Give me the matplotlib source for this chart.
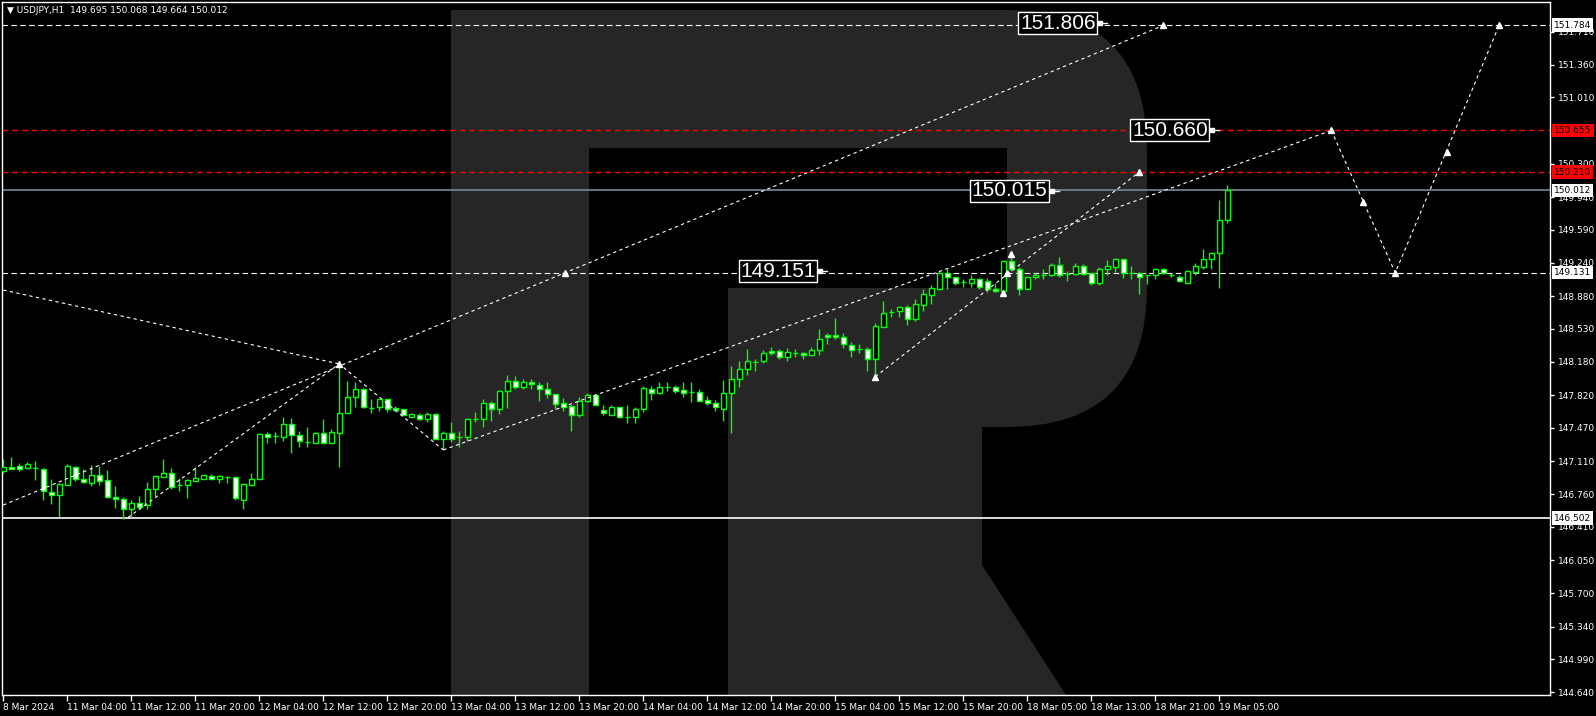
import matplotlib
matplotlib.use("Agg")
import matplotlib.pyplot as plt
import matplotlib.transforms as mtransforms
from matplotlib import font_manager
from matplotlib.patches import Rectangle, FancyBboxPatch, Polygon

# USDJPY H1 candles (bar index 0 = 8 Mar 2024 evening)
opens = [147.011, 147.054, 147.061, 147.040, 147.036, 147.032, 146.783, 146.754, 146.861, 147.054,
         146.925, 146.882, 146.962, 146.911, 146.732, 146.704, 146.597, 146.662, 146.640, 146.812,
         146.947, 146.983, 146.858, 146.861, 146.904, 146.925, 146.954, 146.919, 146.947, 146.940,
         146.697, 146.854, 146.925, 147.404, 147.382, 147.369, 147.511, 147.390, 147.318, 147.311,
         147.411, 147.311, 147.418, 147.632, 147.797, 147.889, 147.686, 147.690, 147.776, 147.682,
         147.669, 147.589, 147.604, 147.568, 147.618, 147.354, 147.411, 147.369, 147.369, 147.561,
         147.561, 147.733, 147.669, 147.861, 147.975, 147.904, 147.961, 147.925, 147.882, 147.832,
         147.733, 147.704, 147.611, 147.754, 147.825, 147.661, 147.611, 147.690, 147.583, 147.583,
         147.669, 147.889, 147.846, 147.904, 147.904, 147.875, 147.854, 147.854, 147.768, 147.733,
         147.675, 147.840, 147.990, 148.097, 148.175, 148.183, 148.290, 148.297, 148.226, 148.275,
         148.275, 148.247, 148.304, 148.461, 148.461, 148.440, 148.361, 148.311, 148.311, 148.204,
         148.554, 148.708, 148.718, 148.761, 148.639, 148.783, 148.896, 148.961, 149.125, 149.083,
         149.029, 149.018, 149.061, 149.040, 148.961, 148.939, 149.260, 149.175, 148.961, 149.083,
         149.110, 149.104, 149.211, 149.118, 149.118, 149.204, 149.125, 149.018, 149.168, 149.197,
         149.275, 149.125, 149.125, 149.104, 149.104, 149.175, 149.110, 149.089, 149.025, 149.139,
         149.197, 149.282, 149.346, 149.695]
highs = [147.136, 147.157, 147.093, 147.104, 147.112, 147.040, 146.919, 146.882, 147.083, 147.061,
         147.032, 147.069, 147.061, 147.018, 146.847, 146.726, 146.697, 146.740, 146.890, 146.968,
         147.133, 147.040, 146.933, 146.925, 147.047, 146.968, 146.975, 146.962, 146.954, 146.940,
         146.876, 146.989, 147.411, 147.425, 147.425, 147.583, 147.575, 147.433, 147.476, 147.425,
         147.561, 147.454, 148.154, 147.968, 147.961, 147.895, 147.776, 147.782, 147.782, 147.704,
         147.675, 147.626, 147.626, 147.639, 147.626, 147.433, 147.532, 147.433, 147.575, 147.639,
         147.776, 147.754, 147.875, 148.033, 148.025, 147.996, 147.996, 147.961, 147.961, 147.832,
         147.790, 147.711, 147.797, 147.846, 147.832, 147.711, 147.711, 147.690, 147.711, 147.690,
         147.918, 147.918, 147.961, 147.961, 147.925, 147.961, 147.961, 147.882, 147.811, 147.768,
         147.982, 148.132, 148.183, 148.311, 148.204, 148.304, 148.339, 148.311, 148.325, 148.318,
         148.282, 148.333, 148.526, 148.489, 148.647, 148.483, 148.390, 148.368, 148.333, 148.590,
         148.825, 148.746, 148.775, 148.783, 148.847, 148.961, 148.997, 149.139, 149.168, 149.089,
         149.061, 149.104, 149.075, 149.075, 149.018, 149.268, 149.332, 149.190, 149.097, 149.125,
         149.175, 149.232, 149.303, 149.153, 149.232, 149.225, 149.132, 149.190, 149.268, 149.289,
         149.280, 149.204, 149.139, 149.110, 149.182, 149.182, 149.132, 149.110, 149.161, 149.239,
         149.382, 149.350, 149.911, 150.068]
lows = [146.986, 147.026, 147.011, 147.032, 146.911, 146.697, 146.654, 146.518, 146.861, 146.904,
        146.876, 146.847, 146.861, 146.718, 146.611, 146.493, 146.518, 146.604, 146.604, 146.740,
        146.940, 146.818, 146.797, 146.718, 146.904, 146.925, 146.919, 146.882, 146.882, 146.697,
        146.604, 146.847, 146.919, 147.311, 147.311, 147.332, 147.204, 147.261, 147.268, 147.304,
        147.304, 147.304, 147.054, 147.626, 147.696, 147.682, 147.632, 147.654, 147.639, 147.647,
        147.604, 147.583, 147.554, 147.532, 147.347, 147.233, 147.318, 147.268, 147.332, 147.532,
        147.482, 147.546, 147.618, 147.682, 147.889, 147.889, 147.882, 147.761, 147.790, 147.669,
        147.654, 147.439, 147.589, 147.747, 147.711, 147.611, 147.604, 147.575, 147.519, 147.519,
        147.639, 147.768, 147.832, 147.861, 147.840, 147.797, 147.747, 147.754, 147.718, 147.654,
        147.546, 147.418, 147.911, 148.039, 148.082, 148.161, 148.247, 148.211, 148.189, 148.232,
        148.211, 148.239, 148.254, 148.368, 148.418, 148.325, 148.232, 148.268, 148.082, 148.018,
        148.547, 148.654, 148.654, 148.575, 148.611, 148.718, 148.796, 148.954, 148.961, 148.997,
        148.982, 148.982, 148.961, 148.925, 148.925, 148.911, 149.153, 148.896, 148.954, 149.068,
        149.061, 149.097, 149.083, 149.040, 149.110, 149.104, 148.997, 148.997, 149.104, 149.139,
        149.075, 149.068, 148.904, 149.011, 149.061, 149.118, 149.089, 149.032, 149.018, 149.110,
        149.175, 149.175, 148.968, 149.664]
closes = [147.054, 147.032, 147.032, 147.083, 147.036, 146.790, 146.754, 146.868, 147.061, 146.925,
          146.890, 146.962, 146.904, 146.732, 146.704, 146.597, 146.662, 146.625, 146.812, 146.954,
          146.983, 146.839, 146.858, 146.911, 146.933, 146.962, 146.919, 146.954, 146.947, 146.718,
          146.868, 146.925, 147.404, 147.375, 147.382, 147.511, 147.390, 147.326, 147.318, 147.411,
          147.311, 147.425, 147.632, 147.797, 147.889, 147.690, 147.686, 147.776, 147.675, 147.661,
          147.611, 147.618, 147.568, 147.618, 147.354, 147.411, 147.354, 147.369, 147.561, 147.561,
          147.733, 147.669, 147.861, 147.975, 147.904, 147.961, 147.939, 147.882, 147.832, 147.725,
          147.696, 147.611, 147.754, 147.825, 147.718, 147.626, 147.690, 147.583, 147.583, 147.669,
          147.897, 147.846, 147.904, 147.904, 147.868, 147.846, 147.854, 147.761, 147.733, 147.690,
          147.840, 147.990, 148.097, 148.183, 148.175, 148.268, 148.268, 148.226, 148.282, 148.275,
          148.247, 148.304, 148.425, 148.440, 148.440, 148.368, 148.304, 148.311, 148.204, 148.561,
          148.697, 148.708, 148.761, 148.633, 148.796, 148.904, 148.968, 149.125, 149.083, 149.025,
          149.029, 149.061, 148.982, 148.961, 148.939, 149.260, 149.175, 148.961, 149.083, 149.104,
          149.110, 149.211, 149.104, 149.118, 149.204, 149.118, 149.018, 149.168, 149.204, 149.275,
          149.125, 149.125, 149.089, 149.104, 149.175, 149.125, 149.110, 149.040, 149.147, 149.204,
          149.282, 149.346, 149.695, 150.012]

date_pos = [0, 8, 16, 24, 32, 40, 48, 56, 64, 72, 80, 88, 96, 104, 112, 120, 128, 136, 144, 152]
date_labels = ["8 Mar 2024", "11 Mar 04:00", "11 Mar 12:00", "11 Mar 20:00", "12 Mar 04:00",
               "12 Mar 12:00", "12 Mar 20:00", "13 Mar 04:00", "13 Mar 12:00", "13 Mar 20:00",
               "14 Mar 04:00", "14 Mar 12:00", "14 Mar 20:00", "15 Mar 04:00", "15 Mar 12:00",
               "15 Mar 20:00", "18 Mar 05:00", "18 Mar 13:00", "18 Mar 21:00", "19 Mar 05:00"]
price_ticks = [151.710, 151.360, 151.010, 150.300, 149.940, 149.590, 149.240, 148.880,
               148.530, 148.180, 147.820, 147.470, 147.110, 146.760, 146.410, 146.050, 145.700,
               145.340, 144.990, 144.640]

# horizontal levels
level_top = 151.784
level_red = [150.655, 150.210]
level_bid = 150.012
level_mid = 149.131
level_support = 146.502

# trend / zigzag lines (bar index, price)
down_x, down_y = [0, 42], [148.946, 148.154]
trend_x, trend_y = [0, 145], [146.643, 151.780]
zig_x, zig_y = [15.6, 42, 55], [146.510, 148.154, 147.233]
chan_x, chan_y = [55, 166], [147.233, 150.655]
up_x, up_y = [109, 142], [148.018, 150.210]
fc_x, fc_y = [166, 174, 187], [150.655, 149.131, 151.784]
arrow_x = [42, 109, 125, 126, 70.2, 125.5, 142, 145, 166, 170, 174, 180.5, 187]
arrow_y = [148.154, 148.018, 148.918, 149.332, 149.131, 149.131, 150.210, 151.780, 150.655,
           149.886, 149.131, 150.428, 151.784]

# big price labels
tag_text = ["151.806", "150.660", "150.015", "149.151"]
tag_x = [136.8, 150.8, 130.75, 101.8]
tag_y = [151.806, 150.657, 150.010, 149.147]

installed = {f.name for f in font_manager.fontManager.ttflist}
if "Liberation Sans Narrow" in installed:
    small_font, small_size = "Liberation Sans Narrow", 8
else:
    small_font, small_size = "DejaVu Sans", 6.5
plt.rcParams["font.family"] = [small_font, "DejaVu Sans"]

W, H = 1596, 716
fig = plt.figure(figsize=(W / 100, H / 100), dpi=100, facecolor="black")

# background logo
bg = fig.add_axes([0, 0, 1, 1], zorder=0)
bg.set_xlim(0, W)
bg.set_ylim(H, 0)
bg.axis("off")
bg.set_facecolor("black")
logo = "#262626"
bg.add_patch(FancyBboxPatch((451 + 140, 10 + 140), 1147 - 451 - 280, 427 - 10 - 280,
                            boxstyle="round,pad=140", fc=logo, ec="none"))
bg.add_patch(Rectangle((451, 10), 400, 417, fc=logo, ec="none"))
bg.add_patch(Rectangle((451, 10), 138, 685, fc=logo, ec="none"))
bg.add_patch(Rectangle((589, 148), 418, 140, fc="black", ec="none"))
bg.add_patch(Rectangle((589, 288), 139, 407, fc="black", ec="none"))
bg.add_patch(Polygon([(728, 427), (982, 427), (982, 565), (1066, 695), (728, 695)],
                     closed=True, fc=logo, ec="none"))

ax = fig.add_axes([2 / W, 21 / H, 1548 / W, 693 / H], zorder=1)
ax.set_facecolor("none")
ax.set_xlim(-0.16, 193.34)
ax.set_ylim(144.608, 152.031)

green = "#00ff00"
n = len(opens)
xs = list(range(n))
bottoms = [min(o, c) for o, c in zip(opens, closes)]
heights = [abs(c - o) for o, c in zip(opens, closes)]
fills = ["black" if c > o else "white" for o, c in zip(opens, closes)]
ax.vlines(xs, lows, highs, color=green, lw=1.0, zorder=3)
ax.bar(xs, heights, bottom=bottoms, width=0.58, color=fills, edgecolor=green, linewidth=1.0, zorder=4)

# levels
ax.axhline(level_top, color="white", lw=0.8, ls=(0, (5, 3)), zorder=2)
for lv in level_red:
    ax.axhline(lv, color="#ff0000", lw=1.0, ls=(0, (4, 3)), zorder=2)
ax.axhline(level_bid, color="#778899", lw=1.2, zorder=2)
ax.axhline(level_mid, color="white", lw=0.8, ls=(0, (5, 3)), zorder=2)
ax.axhline(level_support, color="white", lw=1.2, zorder=2)

dot = dict(color="white", lw=0.8, ls=(0, (3, 3)), zorder=5)
ax.plot(down_x, down_y, **dot)
ax.plot(trend_x, trend_y, **dot)
ax.plot(zig_x, zig_y, **dot)
ax.plot(chan_x, chan_y, **dot)
ax.plot(up_x, up_y, **dot)
ax.plot(fc_x, fc_y, **dot)
ax.plot(arrow_x, arrow_y, ls="none", marker="^", ms=4, color="white", mec="white", zorder=6)

for s, x, y in zip(tag_text, tag_x, tag_y):
    ax.text(x - 0.25, y, s, ha="right", va="center", fontsize=15, color="white",
            family=["Liberation Sans", "DejaVu Sans"], zorder=8,
            bbox=dict(boxstyle="square,pad=0.08", fc="black", ec="white", lw=1))
    ax.plot([x, x + 1.2], [y, y], color="white", lw=1, zorder=8)
    ax.plot([x + 0.3], [y], ls="none", marker="s", ms=2.5, color="white", zorder=8)

# axes styling
for sp in ax.spines.values():
    sp.set_color("white")
    sp.set_linewidth(1)
ax.yaxis.tick_right()
ax.set_yticks(price_ticks)
ax.set_yticklabels([f"{t:.3f}" for t in price_ticks])
ax.set_xticks(date_pos)
ax.set_xticklabels(date_labels)
for lab in ax.get_xticklabels():
    lab.set_horizontalalignment("left")
ax.tick_params(axis="y", colors="white", length=3, width=1, pad=3, labelsize=small_size)
ax.tick_params(axis="x", colors="white", length=4, width=1, pad=2, labelsize=small_size)

trans = mtransforms.blended_transform_factory(ax.transAxes, ax.transData)
side_labels = [(level_top, "white", "black"), (level_red[0], "#ff0000", "black"),
               (level_red[1], "#ff0000", "black"), (level_bid, "white", "black"),
               (level_mid, "white", "black"), (level_support, "white", "black")]
for price, fc, tc in side_labels:
    ax.text(1.0025, price, f"{price:.3f}", transform=trans, ha="left", va="center",
            fontsize=small_size, color=tc, zorder=10, clip_on=False,
            bbox=dict(boxstyle="square,pad=0.25", fc=fc, ec="none"))

ax.text(0.003, 0.994, "\u25bc USDJPY,H1  149.695 150.068 149.664 150.012", transform=ax.transAxes,
        ha="left", va="top", fontsize=small_size, color="white", family=[small_font, "DejaVu Sans"],
        zorder=10)

fig.savefig("out.png", dpi=100, facecolor="black")
